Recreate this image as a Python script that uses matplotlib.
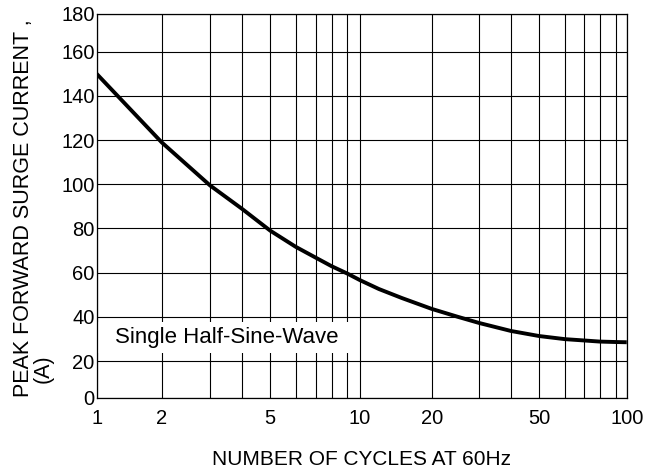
import numpy as np
import matplotlib
matplotlib.use("Agg")
import matplotlib.pyplot as plt
from matplotlib.patches import Rectangle

plt.rcParams['font.family'] = ['Liberation Sans', 'DejaVu Sans']

# curve
cycles = [1, 2, 3, 4, 5, 6, 7, 8, 9, 10, 12, 15, 20, 25, 30, 40, 50, 60, 70, 80, 90, 100]
surge = [150, 119, 99.5, 89, 79, 71.7, 66.8, 62.9, 59.6, 56.6, 52.6, 48.5, 43.6,
         40.0, 37.2, 33.6, 31.3, 29.9, 29.3, 28.8, 28.6, 28.5]

x_major = [1, 2, 5, 10, 20, 50, 100]
x_minor = [3, 4, 6, 7, 8, 9, 30, 40, 60, 70, 80, 90]
y_grid = [20, 40, 60, 80, 100, 120, 140, 160]
y_labels = ['0', '20', '40', '60', '80', '100', '120', '140', '160', '180']
y_lo, y_hi = 3.4, 177.1

# the printed log paper is not a true log scale: where each grid line sits
paper_x = [1e-3, 1, 2, 3, 4, 5, 6, 7, 8, 9, 10, 20, 30, 40, 50, 60, 70, 80, 90, 100, 1e5]
paper_f = [-1.49, 0, 0.1226, 0.2138, 0.2736, 0.3275, 0.3755, 0.4132, 0.4434, 0.4728,
           0.4968, 0.6321, 0.7219, 0.7817, 0.8351, 0.8836, 0.9200, 0.9496, 0.9798, 1.0, 2.51]
lx = np.log10(paper_x)
pf = np.array(paper_f)


def fwd(x):
    x = np.clip(np.asarray(x, dtype=float), 1e-3, 1e5)
    return np.interp(np.log10(x), lx, pf)


def inv(f):
    return 10 ** np.interp(np.asarray(f, dtype=float), pf, lx)


fig = plt.figure(figsize=(6.49, 4.76), dpi=100)
ax = fig.add_axes([0.149, 0.1645, 0.8167, 0.8061])
ax.set_xscale('function', functions=(fwd, inv))
ax.set_xlim(1, 100)
ax.set_ylim(y_lo, y_hi)

ax.set_xticks(x_major)
ax.set_xticks(x_minor, minor=True)
ax.set_xticklabels([str(v) for v in x_major])
ax.set_yticks([y_lo] + y_grid + [y_hi])
ax.set_yticklabels(y_labels)
ax.tick_params(axis='both', which='both', length=0, labelsize=14.5)
ax.tick_params(axis='x', pad=8)
ax.tick_params(axis='y', pad=1.5)

ax.set_axisbelow(True)
ax.grid(True, which='both', color='black', lw=0.8)
for s in ax.spines.values():
    s.set_linewidth(0.9)

ax.plot(cycles, surge, color='black', lw=2.8, solid_capstyle='butt', zorder=3)

ax.add_patch(Rectangle((0, 0.117), 0.484, 0.081, transform=ax.transAxes,
                       facecolor='white', edgecolor='none', zorder=1))
ax.text(0.0345, 0.158, 'Single Half-Sine-Wave', transform=ax.transAxes,
        fontsize=16, va='center', ha='left', zorder=2)

fig.text(0.0196, 0.166, 'PEAK FORWARD SURGE CURRENT ,', rotation=90,
         ha='left', va='bottom', fontsize=15.5)
fig.text(0.051, 0.195, '(A)', rotation=90, ha='left', va='bottom', fontsize=15.5)
fig.text(0.557, 0.034, 'NUMBER OF CYCLES AT 60Hz', ha='center', va='center',
         fontsize=15)

fig.savefig('out.png', dpi=100)
